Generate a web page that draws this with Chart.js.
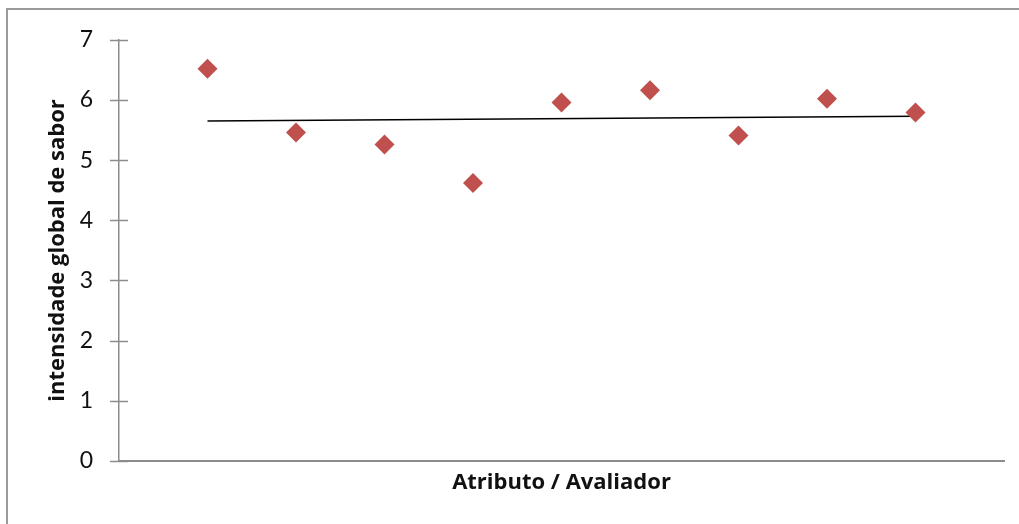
<!DOCTYPE html>
<html>
<head>
<meta charset="utf-8">
<script src="https://cdn.jsdelivr.net/npm/chart.js@4/dist/chart.umd.min.js"></script>
<style>
  html, body { margin: 0; padding: 0; background: #fff; }
  #wrap { width: 1019px; height: 524px; position: relative; }
</style>
</head>
<body>
<div id="wrap"><canvas id="chart" width="1019" height="524"></canvas></div>
<script>
// avaliadores (posição no eixo x) e notas medias
const avaliadores = [1, 2, 3, 4, 5, 6, 7, 8, 9];
const intensidade = [6.52, 5.46, 5.26, 4.62, 5.96, 6.16, 5.41, 6.02, 5.79];
const yTicks = [0, 1, 2, 3, 4, 5, 6, 7];

// linha de tendencia linear (minimos quadrados)
function trend(xs, ys) {
  const n = xs.length;
  const mx = xs.reduce((a, b) => a + b, 0) / n;
  const my = ys.reduce((a, b) => a + b, 0) / n;
  let num = 0, den = 0;
  for (let i = 0; i < n; i++) {
    num += (xs[i] - mx) * (ys[i] - my);
    den += (xs[i] - mx) * (xs[i] - mx);
  }
  const b = num / den;
  const a = my - b * mx;
  return [xs[0], xs[n - 1]].map(x => ({ x: x, y: a + b * x }));
}

const points = avaliadores.map((x, i) => ({ x: x, y: intensidade[i] }));

// ticks cruzando o eixo y + moldura externa
const extras = {
  id: 'extras',
  afterDraw(chart) {
    const ctx = chart.ctx;
    const y = chart.scales.y;
    const xAxis = chart.chartArea.left;
    ctx.save();
    ctx.strokeStyle = '#8c8c8c';
    ctx.lineWidth = 1.5;
    yTicks.forEach(v => {
      const py = Math.round(y.getPixelForValue(v)) + 0.5;
      ctx.beginPath();
      ctx.moveTo(xAxis - 9, py);
      ctx.lineTo(xAxis + 9, py);
      ctx.stroke();
    });
    ctx.strokeStyle = '#9a9a9a';
    ctx.lineWidth = 2;
    ctx.beginPath();
    ctx.moveTo(7, 530);
    ctx.lineTo(7, 9);
    ctx.lineTo(1030, 9);
    ctx.stroke();
    ctx.restore();
  }
};

new Chart(document.getElementById('chart'), {
  type: 'scatter',
  data: {
    datasets: [{
      label: 'intensidade',
      data: points,
      pointStyle: 'rectRot',
      pointRadius: 10,
      pointHoverRadius: 10,
      backgroundColor: '#c0504d',
      borderColor: '#c0504d',
      borderWidth: 0,
      order: 1
    }, {
      type: 'line',
      label: 'tendencia',
      data: trend(avaliadores, intensidade),
      borderColor: '#000',
      borderWidth: 1.5,
      pointRadius: 0,
      fill: false,
      order: 2
    }]
  },
  options: {
    responsive: false,
    animation: false,
    layout: { padding: { top: 38, right: 15, bottom: 0, left: 0 } },
    plugins: { legend: { display: false }, tooltip: { enabled: false } },
    scales: {
      x: {
        type: 'linear',
        min: 0,
        max: 10,
        grid: { display: false },
        border: { color: '#8c8c8c', width: 2 },
        ticks: { display: false },
        title: {
          display: true,
          text: 'Atributo / Avaliador',
          color: '#111',
          font: { family: 'Open Sans', size: 22, weight: 'bold' },
          padding: { top: 0, bottom: 28 }
        },
        afterFit(scale) { scale.height = 63; }
      },
      y: {
        min: 0,
        max: 7,
        afterBuildTicks(scale) { scale.ticks = yTicks.map(v => ({ value: v })); },
        grid: { display: false, drawTicks: false },
        border: { color: '#8c8c8c', width: 1.5 },
        ticks: {
          color: '#111',
          padding: 26,
          font: { family: 'Lato', size: 23 }
        },
        title: {
          display: true,
          text: 'intensidade global de sabor',
          color: '#111',
          font: { family: 'Open Sans', size: 22, weight: 'bold' },
          padding: { top: 45, bottom: 0 }
        },
        afterFit(scale) { scale.width = 119; }
      }
    }
  },
  plugins: [extras]
});
</script>
</body>
</html>
